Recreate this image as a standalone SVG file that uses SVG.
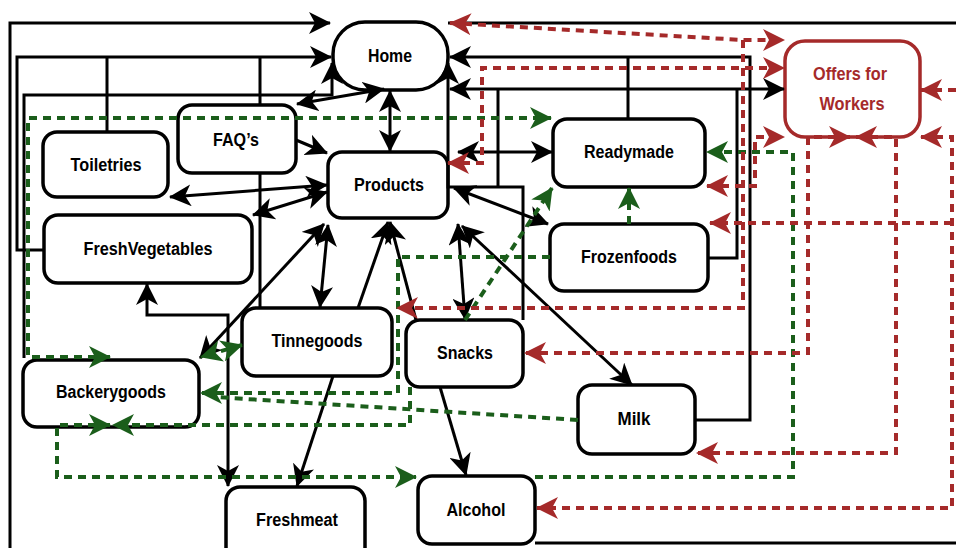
<svg xmlns="http://www.w3.org/2000/svg" width="956" height="548" viewBox="0 0 956 548">
  <defs>
    <style>
      .node rect { fill: #fff; stroke: #000; stroke-width: 3.5; }
      .node text { font-family: "Liberation Sans", Arial, sans-serif; font-weight: bold; font-size: 18px; text-anchor: middle; fill: #000; }
      .offer rect { stroke: #a52a2a; }
      .offer text { fill: #a52a2a; }
      .k { fill: none; stroke: #000; stroke-width: 3; }
      .g { fill: none; stroke: #1b5e1b; stroke-width: 4; stroke-dasharray: 8 6; }
      .r { fill: none; stroke: #a52a2a; stroke-width: 4; stroke-dasharray: 8 6; }
    </style>
    <marker id="ak" viewBox="0 0 22 22" refX="21" refY="11" markerWidth="22" markerHeight="22" markerUnits="userSpaceOnUse" orient="auto-start-reverse">
      <path d="M0,0 L22,11 L0,22 L6,11 z" fill="#000"/>
    </marker>
    <marker id="ag" viewBox="0 0 22 22" refX="21" refY="11" markerWidth="22" markerHeight="22" markerUnits="userSpaceOnUse" orient="auto-start-reverse">
      <path d="M0,0 L22,11 L0,22 L6,11 z" fill="#1b5e1b"/>
    </marker>
    <marker id="ar" viewBox="0 0 22 22" refX="21" refY="11" markerWidth="22" markerHeight="22" markerUnits="userSpaceOnUse" orient="auto-start-reverse">
      <path d="M0,0 L22,11 L0,22 L6,11 z" fill="#a52a2a"/>
    </marker>
  </defs>

  <rect width="956" height="548" fill="#fff"/>

  <!-- nodes -->
  <g id="home" class="node"><rect x="333" y="22" width="115" height="68" rx="32"/><text x="390" y="62" textLength="44" lengthAdjust="spacingAndGlyphs">Home</text></g>
  <g id="offers" class="node offer"><rect x="785" y="41" width="135" height="96" rx="20"/><text x="850" y="80" textLength="74" lengthAdjust="spacingAndGlyphs">Offers for</text><text x="852" y="110" textLength="65" lengthAdjust="spacingAndGlyphs">Workers</text></g>
  <g id="faq" class="node"><rect x="178" y="105" width="118" height="68" rx="14"/><text x="236" y="146" textLength="46" lengthAdjust="spacingAndGlyphs">FAQ’s</text></g>
  <g id="toiletries" class="node"><rect x="43" y="132" width="125" height="65" rx="14"/><text x="106" y="171" textLength="71" lengthAdjust="spacingAndGlyphs">Toiletries</text></g>
  <g id="products" class="node"><rect x="328" y="152" width="120" height="66" rx="14"/><text x="389" y="191" textLength="70" lengthAdjust="spacingAndGlyphs">Products</text></g>
  <g id="readymade" class="node"><rect x="553" y="119" width="152" height="68" rx="14"/><text x="629" y="158" textLength="90" lengthAdjust="spacingAndGlyphs">Readymade</text></g>
  <g id="frozenfoods" class="node"><rect x="550" y="224" width="158" height="67" rx="14"/><text x="629" y="263" textLength="96" lengthAdjust="spacingAndGlyphs">Frozenfoods</text></g>
  <g id="freshvegetables" class="node"><rect x="44" y="215" width="208" height="68" rx="14"/><text x="148" y="255" textLength="129" lengthAdjust="spacingAndGlyphs">FreshVegetables</text></g>
  <g id="tinnegoods" class="node"><rect x="242" y="308" width="150" height="68" rx="14"/><text x="317" y="347" textLength="91" lengthAdjust="spacingAndGlyphs">Tinnegoods</text></g>
  <g id="snacks" class="node"><rect x="406" y="320" width="117" height="67" rx="14"/><text x="465" y="359" textLength="56" lengthAdjust="spacingAndGlyphs">Snacks</text></g>
  <g id="backerygoods" class="node"><rect x="23" y="360" width="176" height="67" rx="14"/><text x="111" y="398" textLength="110" lengthAdjust="spacingAndGlyphs">Backerygoods</text></g>
  <g id="milk" class="node"><rect x="578" y="385" width="117" height="69" rx="14"/><text x="634" y="425" textLength="33" lengthAdjust="spacingAndGlyphs">Milk</text></g>
  <g id="freshmeat" class="node"><rect x="226" y="487" width="139" height="75" rx="14"/><text x="297" y="526" textLength="82" lengthAdjust="spacingAndGlyphs">Freshmeat</text></g>
  <g id="alcohol" class="node"><rect x="418" y="476" width="117" height="68" rx="14"/><text x="476" y="516" textLength="59" lengthAdjust="spacingAndGlyphs">Alcohol</text></g>

  <!-- connectors -->
  <g id="connectors">
    <!-- solid black links -->
    <path class="k" d="M10,548 V23 H330" marker-end="url(#ak)"/>
    <path class="k" d="M448,23 H956"/>
    <path class="k" d="M535,543 H956"/>
    <path class="k" d="M44,250 H17 V57 H331" marker-end="url(#ak)"/>
    <path class="k" d="M107,132 V57 M260,105 V57 M260,308 V173"/>
    <path class="k" d="M24,358 V95 H332 V63" marker-end="url(#ak)"/>
    <path class="k" d="M297,104 L384,89" marker-start="url(#ak)" marker-end="url(#ak)"/>
    <path class="k" d="M390,91 V151" marker-start="url(#ak)" marker-end="url(#ak)"/>
    <path class="k" d="M523,320 V187 H448 V63" marker-end="url(#ak)"/>
    <path class="k" d="M498,187 V90"/>
    <path class="k" d="M450,89 H784" marker-start="url(#ak)" marker-end="url(#ak)"/>
    <path class="k" d="M708,258 H737 V89"/>
    <path class="k" d="M695,420 H750 V57 H450" marker-end="url(#ak)"/>
    <path class="k" d="M628,119 V57"/>
    <path class="k" d="M458,152 H552" marker-start="url(#ak)" marker-end="url(#ak)"/>
    <path class="k" d="M454,188 L548,224" marker-start="url(#ak)" marker-end="url(#ak)"/>
    <path class="k" d="M327,185 L170,197" marker-start="url(#ak)" marker-end="url(#ak)"/>
    <path class="k" d="M327,192 L253,215" marker-start="url(#ak)" marker-end="url(#ak)"/>
    <path class="k" d="M296,140 L327,153" marker-end="url(#ak)"/>
    <path class="k" d="M324,224 L200,358" marker-start="url(#ak)" marker-end="url(#ak)"/>
    <path class="k" d="M328,225 L320,307" marker-start="url(#ak)" marker-end="url(#ak)"/>
    <path class="k" d="M358,308 L388,222" marker-end="url(#ak)"/>
    <path class="k" d="M416,320 L390,222" marker-end="url(#ak)"/>
    <path class="k" d="M458,224 L465,319" marker-start="url(#ak)" marker-end="url(#ak)"/>
    <path class="k" d="M462,226 L632,385" marker-start="url(#ak)" marker-end="url(#ak)"/>
    <path class="k" d="M333,376 L297,486" marker-end="url(#ak)"/>
    <path class="k" d="M440,387 L466,475" marker-end="url(#ak)"/>
    <path class="k" d="M147,284 V315 H228 V486" marker-start="url(#ak)" marker-end="url(#ak)"/>

    <!-- green dashed links -->
    <path class="g" d="M110,357 H28 V118 H551" marker-start="url(#ag)" marker-end="url(#ag)"/>
    <path class="g" d="M465,320 L552,188" marker-end="url(#ag)"/>
    <path class="g" d="M629,224 V188" marker-end="url(#ag)"/>
    <path class="g" d="M535,477 H793 V152 H707" marker-end="url(#ag)"/>
    <path class="g" d="M110,425 H57 V477 H416" marker-start="url(#ag)" marker-end="url(#ag)"/>
    <path class="g" d="M410,387 V425 H113" marker-end="url(#ag)"/>
    <path class="g" d="M550,257 H398 V393 H201" marker-end="url(#ag)"/>
    <path class="g" d="M578,420 L215,397"/>
    <path class="g" d="M242,345 L201,357" marker-start="url(#ag)" marker-end="url(#ag)"/>

    <!-- red dashed links -->
    <path class="r" d="M450,23 L743,40 H784" marker-start="url(#ar)" marker-end="url(#ar)"/>
    <path class="r" d="M743,40 V308 H397" marker-end="url(#ar)"/>
    <path class="r" d="M448,163 H482 V68 H784" marker-start="url(#ar)" marker-end="url(#ar)"/>
    <path class="r" d="M707,186 H755 V137 H784" marker-start="url(#ar)" marker-end="url(#ar)"/>
    <path class="r" d="M850,137 H808 V353 H525" marker-start="url(#ar)" marker-end="url(#ar)"/>
    <path class="r" d="M856,137 H896 V453 H697" marker-start="url(#ar)" marker-end="url(#ar)"/>
    <path class="r" d="M956,90 H921" marker-end="url(#ar)"/>
    <path class="r" d="M921,137 H952 V508 H537" marker-start="url(#ar)" marker-end="url(#ar)"/>
    <path class="r" d="M952,223 H710" marker-end="url(#ar)"/>
  </g>
</svg>
